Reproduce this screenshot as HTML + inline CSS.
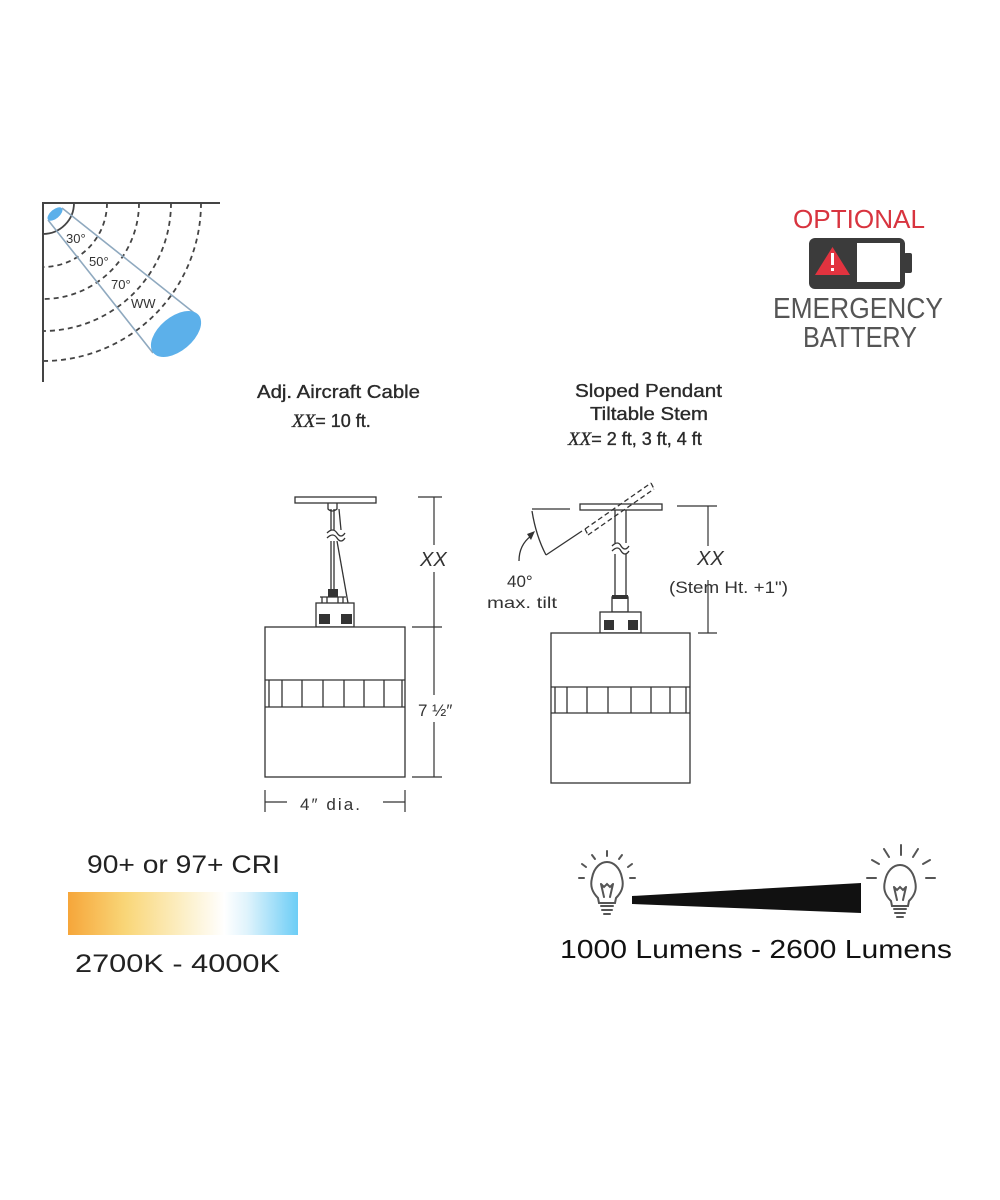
<!DOCTYPE html>
<html><head><meta charset="utf-8"><style>
html,body{margin:0;padding:0;background:#fff;}
svg{display:block;}
text{font-family:"Liberation Sans",sans-serif;}
</style></head><body>
<svg width="1000" height="1200" viewBox="0 0 1000 1200" xmlns="http://www.w3.org/2000/svg">
<rect width="1000" height="1200" fill="#fff"/>

<!-- Beam diagram -->
<g fill="none" stroke="#444" stroke-width="1.8" stroke-dasharray="5 4">
  <path d="M107,203 A64,64 0 0 1 43,267"/>
  <path d="M139,203 A96,96 0 0 1 43,299"/>
  <path d="M171,203 A128,128 0 0 1 43,331"/>
  <path d="M201,203 A158,158 0 0 1 43,361"/>
</g>
<path d="M43,382 L43,203 L220,203" fill="none" stroke="#444" stroke-width="2"/>
<path d="M74,203 A31,31 0 0 1 43,234" fill="none" stroke="#444" stroke-width="1.8"/>
<g stroke="#8fa9bf" stroke-width="1.6">
  <line x1="62" y1="208" x2="198" y2="316"/>
  <line x1="48" y1="220" x2="153" y2="353"/>
</g>
<ellipse cx="55" cy="214" rx="9" ry="4.5" transform="rotate(-40 55 214)" fill="#5cb0ea"/>
<ellipse cx="176" cy="334" rx="29.5" ry="17" transform="rotate(-40 176 334)" fill="#5cb0ea"/>
<g font-size="13" fill="#333">
  <text x="66" y="243">30°</text>
  <text x="89" y="266">50°</text>
  <text x="111" y="289">70°</text>
  <text x="131" y="308">WW</text>
</g>

<!-- Emergency battery -->
<text x="793" y="228" font-size="26" fill="#d8343f" textLength="132" lengthAdjust="spacingAndGlyphs">OPTIONAL</text>
<rect x="809" y="238" width="96" height="51" rx="6" fill="#3b3b3b"/>
<rect x="904" y="253" width="8" height="20" rx="2" fill="#3b3b3b"/>
<rect x="857" y="243" width="43" height="39" fill="#fff"/>
<polygon points="832.5,247 850,275 815,275" fill="#e2333f"/>
<rect x="831" y="253" width="3" height="12" fill="#fff"/>
<rect x="831" y="268" width="3" height="3" fill="#fff"/>
<text x="773" y="318" font-size="29" fill="#555" textLength="170" lengthAdjust="spacingAndGlyphs">EMERGENCY</text>
<text x="803" y="347" font-size="29" fill="#555" textLength="114" lengthAdjust="spacingAndGlyphs">BATTERY</text>

<!-- Headings -->
<g fill="#2a2a2a" font-size="18" stroke="#2a2a2a" stroke-width="0.35">
  <text x="257" y="398" textLength="163" lengthAdjust="spacingAndGlyphs">Adj. Aircraft Cable</text>
  <text x="292" y="427"><tspan font-family="Liberation Serif" font-style="italic" font-size="19">XX</tspan><tspan>= 10 ft.</tspan></text>
  <text x="575" y="397" textLength="147" lengthAdjust="spacingAndGlyphs">Sloped Pendant</text>
  <text x="590" y="420" textLength="118" lengthAdjust="spacingAndGlyphs">Tiltable Stem</text>
  <text x="568" y="445"><tspan font-family="Liberation Serif" font-style="italic" font-size="19">XX</tspan><tspan>= 2 ft, 3 ft, 4 ft</tspan></text>
</g>

<!-- Left pendant -->
<g stroke="#333" stroke-width="1.3" fill="none">
  <rect x="295" y="497" width="81" height="6" fill="#fff"/>
  <path d="M328,503 L328,509 Q332,513 337,509 L337,503"/>
  <line x1="331" y1="509" x2="331" y2="530"/>
  <line x1="334" y1="509" x2="334" y2="530"/>
  <path d="M327,533 Q333,527 337,533 Q341,539 345,533"/>
  <path d="M327,538 Q333,532 337,538 Q341,544 345,538"/>
  <line x1="331" y1="541" x2="331" y2="590"/>
  <line x1="334" y1="541" x2="334" y2="590"/>
  <line x1="337" y1="541" x2="348" y2="603"/>
  <line x1="339" y1="509" x2="341" y2="530"/>
  <line x1="322" y1="597" x2="322" y2="603"/>
  <line x1="327" y1="597" x2="327" y2="603"/>
  <line x1="338" y1="597" x2="338" y2="603"/>
  <line x1="343" y1="597" x2="343" y2="603"/>
  <line x1="320" y1="597" x2="346" y2="597"/>
  <rect x="316" y="603" width="38" height="24" fill="#fff"/>
  <rect x="265" y="627" width="140" height="150" fill="#fff"/>
  <line x1="265" y1="680" x2="405" y2="680"/>
  <line x1="265" y1="707" x2="405" y2="707"/>
</g>
<rect x="328" y="589" width="10" height="8" fill="#333"/>
<rect x="319" y="614" width="11" height="10" fill="#333"/>
<rect x="341" y="614" width="11" height="10" fill="#333"/>
<g stroke="#333" stroke-width="1.3">
  <line x1="269" y1="680" x2="269" y2="707"/>
  <line x1="282" y1="680" x2="282" y2="707"/>
  <line x1="302" y1="680" x2="302" y2="707"/>
  <line x1="323" y1="680" x2="323" y2="707"/>
  <line x1="344" y1="680" x2="344" y2="707"/>
  <line x1="364" y1="680" x2="364" y2="707"/>
  <line x1="384" y1="680" x2="384" y2="707"/>
  <line x1="402" y1="680" x2="402" y2="707"/>
</g>
<!-- left dims -->
<g stroke="#333" stroke-width="1.2">
  <line x1="418" y1="497" x2="442" y2="497"/>
  <line x1="412" y1="627" x2="442" y2="627"/>
  <line x1="412" y1="777" x2="442" y2="777"/>
  <line x1="434" y1="497" x2="434" y2="545"/>
  <line x1="434" y1="572" x2="434" y2="695"/>
  <line x1="434" y1="722" x2="434" y2="777"/>
  <line x1="265" y1="790" x2="265" y2="812"/>
  <line x1="405" y1="790" x2="405" y2="812"/>
  <line x1="265" y1="802" x2="287" y2="802"/>
  <line x1="383" y1="802" x2="405" y2="802"/>
</g>
<text x="420" y="566" font-family="Liberation Serif" font-style="italic" font-size="20" fill="#333">XX</text>
<text x="418" y="716" font-size="17" fill="#333">7 ½″</text>
<text x="300" y="810" font-size="17" fill="#333" textLength="60" lengthAdjust="spacing">4″  dia.</text>

<!-- Right pendant -->
<g stroke="#333" stroke-width="1.3" fill="none">
  <rect x="580" y="504" width="82" height="6" fill="#fff"/>
  <g stroke-dasharray="5 3">
    <line x1="585" y1="529" x2="651" y2="483"/>
    <line x1="588" y1="535" x2="654" y2="489"/>
    <line x1="585" y1="529" x2="588" y2="535"/>
    <line x1="651" y1="483" x2="654" y2="489"/>
  </g>
  <line x1="615" y1="510" x2="615" y2="543"/>
  <line x1="626" y1="510" x2="626" y2="543"/>
  <path d="M612,546 Q618,540 621,546 Q625,552 629,546"/>
  <path d="M612,551 Q618,545 621,551 Q625,557 629,551"/>
  <line x1="615" y1="554" x2="615" y2="597"/>
  <line x1="626" y1="554" x2="626" y2="597"/>
  <rect x="612" y="597" width="16" height="15" fill="#fff"/>
  <rect x="600" y="612" width="41" height="21" fill="#fff"/>
  <rect x="551" y="633" width="139" height="150" fill="#fff"/>
  <line x1="551" y1="687" x2="690" y2="687"/>
  <line x1="551" y1="713" x2="690" y2="713"/>
  <line x1="532" y1="509" x2="570" y2="509"/>
  <line x1="546" y1="555" x2="582" y2="531"/>
  <path d="M532,511 Q536,536 546,555"/>
  <path d="M519,561 Q519,545 531,536"/>
</g>
<rect x="612" y="595" width="16" height="4" fill="#333"/>
<rect x="604" y="620" width="10" height="10" fill="#333"/>
<rect x="628" y="620" width="10" height="10" fill="#333"/>
<polygon points="535,531 527,534 531,540" fill="#333"/>
<g stroke="#333" stroke-width="1.3">
  <line x1="555" y1="687" x2="555" y2="713"/>
  <line x1="567" y1="687" x2="567" y2="713"/>
  <line x1="587" y1="687" x2="587" y2="713"/>
  <line x1="608" y1="687" x2="608" y2="713"/>
  <line x1="631" y1="687" x2="631" y2="713"/>
  <line x1="651" y1="687" x2="651" y2="713"/>
  <line x1="670" y1="687" x2="670" y2="713"/>
  <line x1="686" y1="687" x2="686" y2="713"/>
</g>
<g stroke="#333" stroke-width="1.2">
  <line x1="677" y1="506" x2="717" y2="506"/>
  <line x1="698" y1="633" x2="717" y2="633"/>
  <line x1="708" y1="506" x2="708" y2="546"/>
  <line x1="708" y1="580" x2="708" y2="633"/>
</g>
<text x="697" y="565" font-family="Liberation Serif" font-style="italic" font-size="20" fill="#333">XX</text>
<text x="669" y="593" font-size="17" fill="#333" textLength="119" lengthAdjust="spacingAndGlyphs">(Stem Ht. +1")</text>
<text x="507" y="587" font-size="17" fill="#333">40°</text>
<text x="487" y="608" font-size="16" fill="#333" textLength="70" lengthAdjust="spacingAndGlyphs">max. tilt</text>

<!-- CRI -->
<defs>
  <linearGradient id="cct" x1="0" y1="0" x2="1" y2="0">
    <stop offset="0" stop-color="#f6a63a"/>
    <stop offset="0.25" stop-color="#f9d678"/>
    <stop offset="0.5" stop-color="#fcefc6"/>
    <stop offset="0.68" stop-color="#ffffff"/>
    <stop offset="0.78" stop-color="#dff3fc"/>
    <stop offset="1" stop-color="#6ccdf6"/>
  </linearGradient>
</defs>
<text x="87" y="873" font-size="25" fill="#222" textLength="193" lengthAdjust="spacingAndGlyphs">90+ or 97+ CRI</text>
<rect x="68" y="892" width="230" height="43" fill="url(#cct)"/>
<text x="75" y="972" font-size="25" fill="#222" textLength="205" lengthAdjust="spacingAndGlyphs">2700K - 4000K</text>

<!-- Lumens -->
<polygon points="632,896 861,883 861,913 632,904" fill="#111"/>
<g stroke="#555" stroke-width="2" fill="none" stroke-linecap="round">
  <path d="M598,898 C592,892 590,886 592,878 C594,867 601,862 607,862 C613,862 620,867 622,878 C624,886 622,892 616,898 L615,903 L599,903 Z"/>
  <path d="M601,884 L604,897 M613,884 L610,897 M601,884 L604,887 L607,884 L610,887 L613,884"/>
  <line x1="601" y1="906" x2="613" y2="906"/>
  <line x1="602" y1="910" x2="612" y2="910"/>
  <line x1="604" y1="914" x2="610" y2="914"/>
  <line x1="607" y1="851" x2="607" y2="856"/>
  <line x1="592" y1="855" x2="595" y2="859"/>
  <line x1="622" y1="855" x2="619" y2="859"/>
  <line x1="582" y1="864" x2="586" y2="867"/>
  <line x1="632" y1="864" x2="628" y2="867"/>
  <line x1="579" y1="878" x2="584" y2="878"/>
  <line x1="630" y1="878" x2="635" y2="878"/>
</g>
<g stroke="#555" stroke-width="2" fill="none" stroke-linecap="round">
  <path d="M891,901 C885,895 883,889 885,881 C887,870 894,865 900,865 C906,865 913,870 915,881 C917,889 915,895 909,901 L908,906 L892,906 Z"/>
  <path d="M894,887 L897,900 M906,887 L903,900 M894,887 L897,890 L900,887 L903,890 L906,887"/>
  <line x1="894" y1="909" x2="906" y2="909"/>
  <line x1="895" y1="913" x2="905" y2="913"/>
  <line x1="897" y1="917" x2="903" y2="917"/>
  <line x1="901" y1="845" x2="901" y2="855"/>
  <line x1="884" y1="849" x2="889" y2="857"/>
  <line x1="918" y1="849" x2="913" y2="857"/>
  <line x1="872" y1="860" x2="879" y2="864"/>
  <line x1="930" y1="860" x2="923" y2="864"/>
  <line x1="867" y1="878" x2="876" y2="878"/>
  <line x1="926" y1="878" x2="935" y2="878"/>
</g>
<text x="560" y="958" font-size="26" fill="#111" textLength="392" lengthAdjust="spacingAndGlyphs">1000 Lumens - 2600 Lumens</text>
</svg>
</body></html>
